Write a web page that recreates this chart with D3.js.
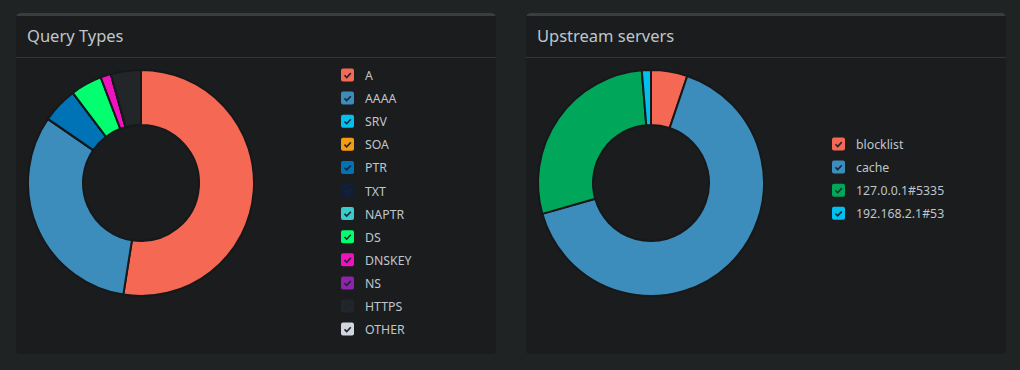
<!DOCTYPE html>
<html>
<head>
<meta charset="utf-8">
<script src="https://cdn.jsdelivr.net/npm/d3@7"></script>
<style>
  body { margin: 0; background: #1f2324; }
  svg { display: block; }
</style>
</head>
<body>
<div id="chart"></div>
<script>
const queryTypes = ["A", "AAAA", "SRV", "SOA", "PTR", "TXT", "NAPTR", "DS", "DNSKEY", "NS", "HTTPS", "OTHER"];
const queryValues = [52.5, 32.1, 0, 0, 5.1, 0, 0, 4.5, 1.5, 0, 4.3, 0];
const queryColors = ["#f56954", "#3c8dbc", "#00c0ef", "#f39c12", "#0073b7", "#0f1f3a", "#39cccc", "#01ff70", "#f012be", "#8e24aa", "#222628", "#d2d6de"];

const upstreams = ["blocklist", "cache", "127.0.0.1#5335", "192.168.2.1#53"];
const upstreamValues = [5.2, 65.4, 28.1, 1.3];
const upstreamColors = ["#f56954", "#3c8dbc", "#00a65a", "#00c0ef"];

const width = 1020;
const height = 370;

const svg = d3.select("#chart")
  .append("svg")
  .attr("width", width)
  .attr("height", height);

function drawPanel(x, title, labels, values, colors, legendX, legendY) {
  const w = 480, top = 13, bottom = 354;
  const g = svg.append("g").attr("transform", `translate(${x},0)`);

  // top strip + body
  g.append("rect")
    .attr("x", 0).attr("y", top)
    .attr("width", w).attr("height", bottom - top)
    .attr("rx", 5)
    .attr("fill", "#3a3e41");
  g.append("rect")
    .attr("x", 0).attr("y", top + 3)
    .attr("width", w).attr("height", bottom - top - 3)
    .attr("rx", 4)
    .attr("fill", "#1a1c1e");
  g.append("rect")
    .attr("x", 0).attr("y", top + 3)
    .attr("width", w).attr("height", 10)
    .attr("fill", "#1a1c1e");

  g.append("line")
    .attr("x1", 0).attr("x2", w)
    .attr("y1", 57.5).attr("y2", 57.5)
    .attr("stroke", "#32373a");

  g.append("text")
    .attr("x", 11).attr("y", 42)
    .attr("fill", "#bfc6cc")
    .style("font", "16.5px 'Source Sans Pro', 'Noto Sans', sans-serif")
    .text(title);

  const pie = d3.pie().sort(null).value(d => d);
  const arc = d3.arc().innerRadius(58).outerRadius(113);

  g.append("g")
    .attr("transform", "translate(125,183)")
    .selectAll("path")
    .data(pie(values))
    .enter()
    .append("path")
    .attr("d", arc)
    .attr("fill", (d, i) => colors[i])
    .attr("stroke", "#16181a")
    .attr("stroke-width", 2);

  const y = d3.scaleBand()
    .domain(labels)
    .range([legendY, legendY + labels.length * 23.1]);

  const item = g.append("g")
    .selectAll("g")
    .data(labels)
    .enter()
    .append("g")
    .attr("transform", d => `translate(${legendX},${y(d)})`);

  item.append("rect")
    .attr("width", 13).attr("height", 13)
    .attr("rx", 2)
    .attr("fill", (d, i) => colors[i]);

  item.append("path")
    .attr("d", "M3.5,6.8 L5.7,9 L9.8,4.6")
    .attr("fill", "none")
    .attr("stroke", "#1b2530")
    .attr("stroke-width", 1.6);

  item.append("text")
    .attr("x", 24).attr("y", 11.5)
    .attr("fill", "#bfc6cc")
    .style("font", "12.3px 'Source Sans Pro', 'Noto Sans', sans-serif")
    .text(d => d);
}

drawPanel(16, "Query Types", queryTypes, queryValues, queryColors, 325, 68.5);
drawPanel(526, "Upstream servers", upstreams, upstreamValues, upstreamColors, 306, 137.5);
</script>
</body>
</html>
